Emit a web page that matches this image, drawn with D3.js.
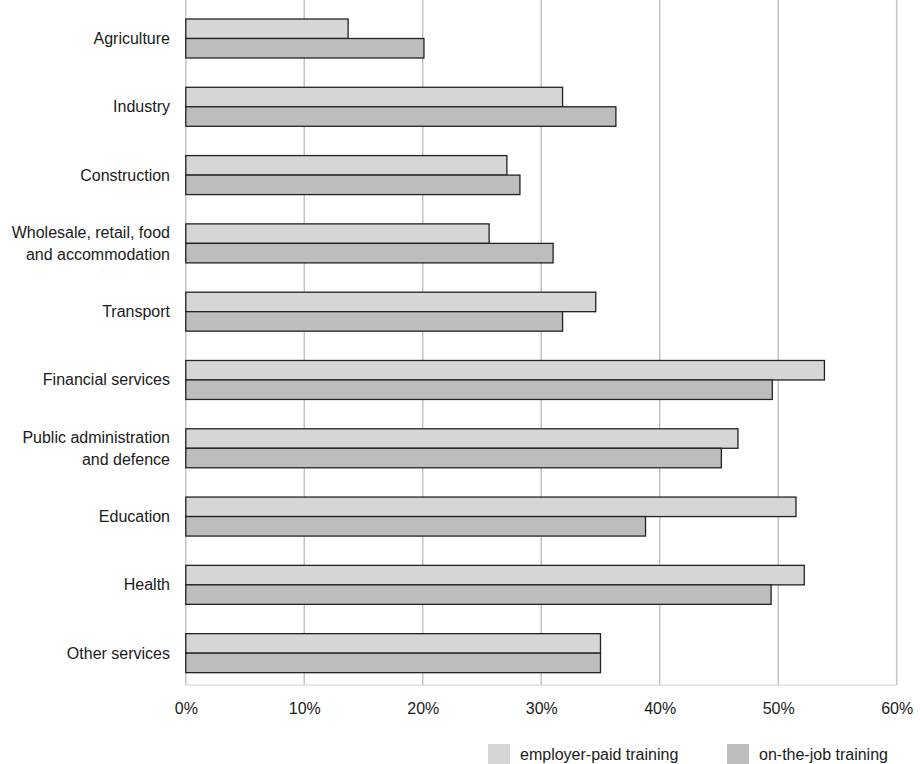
<!DOCTYPE html>
<html>
<head>
<meta charset="utf-8">
<script src="https://cdn.jsdelivr.net/npm/d3@7"></script>
<style>
  html, body { margin: 0; padding: 0; background: #fff; }
  svg { display: block; }
  text { font-family: "Liberation Sans", Arial, Helvetica, sans-serif; fill: #1a1a1a; }
</style>
</head>
<body>
<svg id="chart" width="920" height="764"></svg>
<script>
const categories = [
  ["Agriculture"],
  ["Industry"],
  ["Construction"],
  ["Wholesale, retail, food", "and accommodation"],
  ["Transport"],
  ["Financial services"],
  ["Public administration", "and defence"],
  ["Education"],
  ["Health"],
  ["Other services"]
];
const employerPaid = [13.7, 31.8, 27.1, 25.6, 34.6, 53.9, 46.6, 51.5, 52.2, 35.0];
const onTheJob     = [20.1, 36.3, 28.2, 31.0, 31.8, 49.5, 45.2, 38.8, 49.4, 35.0];
const seriesNames = ["employer-paid training", "on-the-job training"];
const seriesColors = ["#d6d6d6", "#bdbdbd"];
const xTicks = [0, 10, 20, 30, 40, 50, 60];

const svg = d3.select("#chart");
const keys = categories.map((c, i) => "c" + i);

const x = d3.scaleLinear().domain([0, 60]).range([185.8, 896.7]);
const y = d3.scaleBand().domain(keys).range([4.35, 687.3])
  .paddingInner(0.429).paddingOuter(0.2145);
const ySub = d3.scaleBand().domain([0, 1]).range([0, y.bandwidth()]);

// gridlines
svg.append("g").selectAll("line").data(xTicks).join("line")
  .attr("x1", d => x(d)).attr("x2", d => x(d))
  .attr("y1", 0).attr("y2", 685)
  .attr("stroke", "#c4c4c4").attr("stroke-width", 1.5);

// bottom axis baseline
svg.append("line")
  .attr("x1", x(0)).attr("x2", x(60)).attr("y1", 685).attr("y2", 685)
  .attr("stroke", "#d0d0d0").attr("stroke-width", 1);

// bars
const series = [employerPaid, onTheJob];
series.forEach((vals, s) => {
  svg.append("g").selectAll("rect").data(vals).join("rect")
    .attr("x", x(0))
    .attr("y", (d, i) => y(keys[i]) + ySub(s))
    .attr("width", d => x(d) - x(0))
    .attr("height", ySub.bandwidth())
    .attr("fill", seriesColors[s])
    .attr("stroke", "#222")
    .attr("stroke-width", 1.3);
});

// category labels
const lab = svg.append("g").selectAll("text").data(categories).join("text")
  .attr("text-anchor", "end")
  .attr("font-size", 16)
  .attr("x", 170);
lab.each(function(lines, i) {
  const cy = y(keys[i]) + y.bandwidth() / 2;
  const t = d3.select(this);
  const n = lines.length;
  lines.forEach((ln, j) => {
    t.append("tspan")
      .attr("x", 170)
      .attr("y", cy + (j - (n - 1) / 2) * 22 + 5.5)
      .text(ln);
  });
});

// x tick labels
const xAxis = d3.axisBottom(x).tickValues(xTicks).tickFormat(d => d + "%").tickSize(0).tickPadding(0);
const gx = svg.append("g").attr("transform", "translate(0,703)").call(xAxis);
gx.select(".domain").remove();
gx.selectAll("text").attr("font-size", 16).attr("font-family", "Liberation Sans, Arial, sans-serif").attr("fill", "#1a1a1a");

// legend
const legendX = [488, 727];
const leg = svg.append("g").selectAll("g").data(seriesNames).join("g")
  .attr("transform", (d, i) => `translate(${legendX[i]},744)`);
leg.append("rect").attr("width", 22).attr("height", 22)
  .attr("fill", (d, i) => seriesColors[i]);
leg.append("text").attr("x", 32).attr("y", 16).attr("font-size", 16).text(d => d);
</script>
</body>
</html>
